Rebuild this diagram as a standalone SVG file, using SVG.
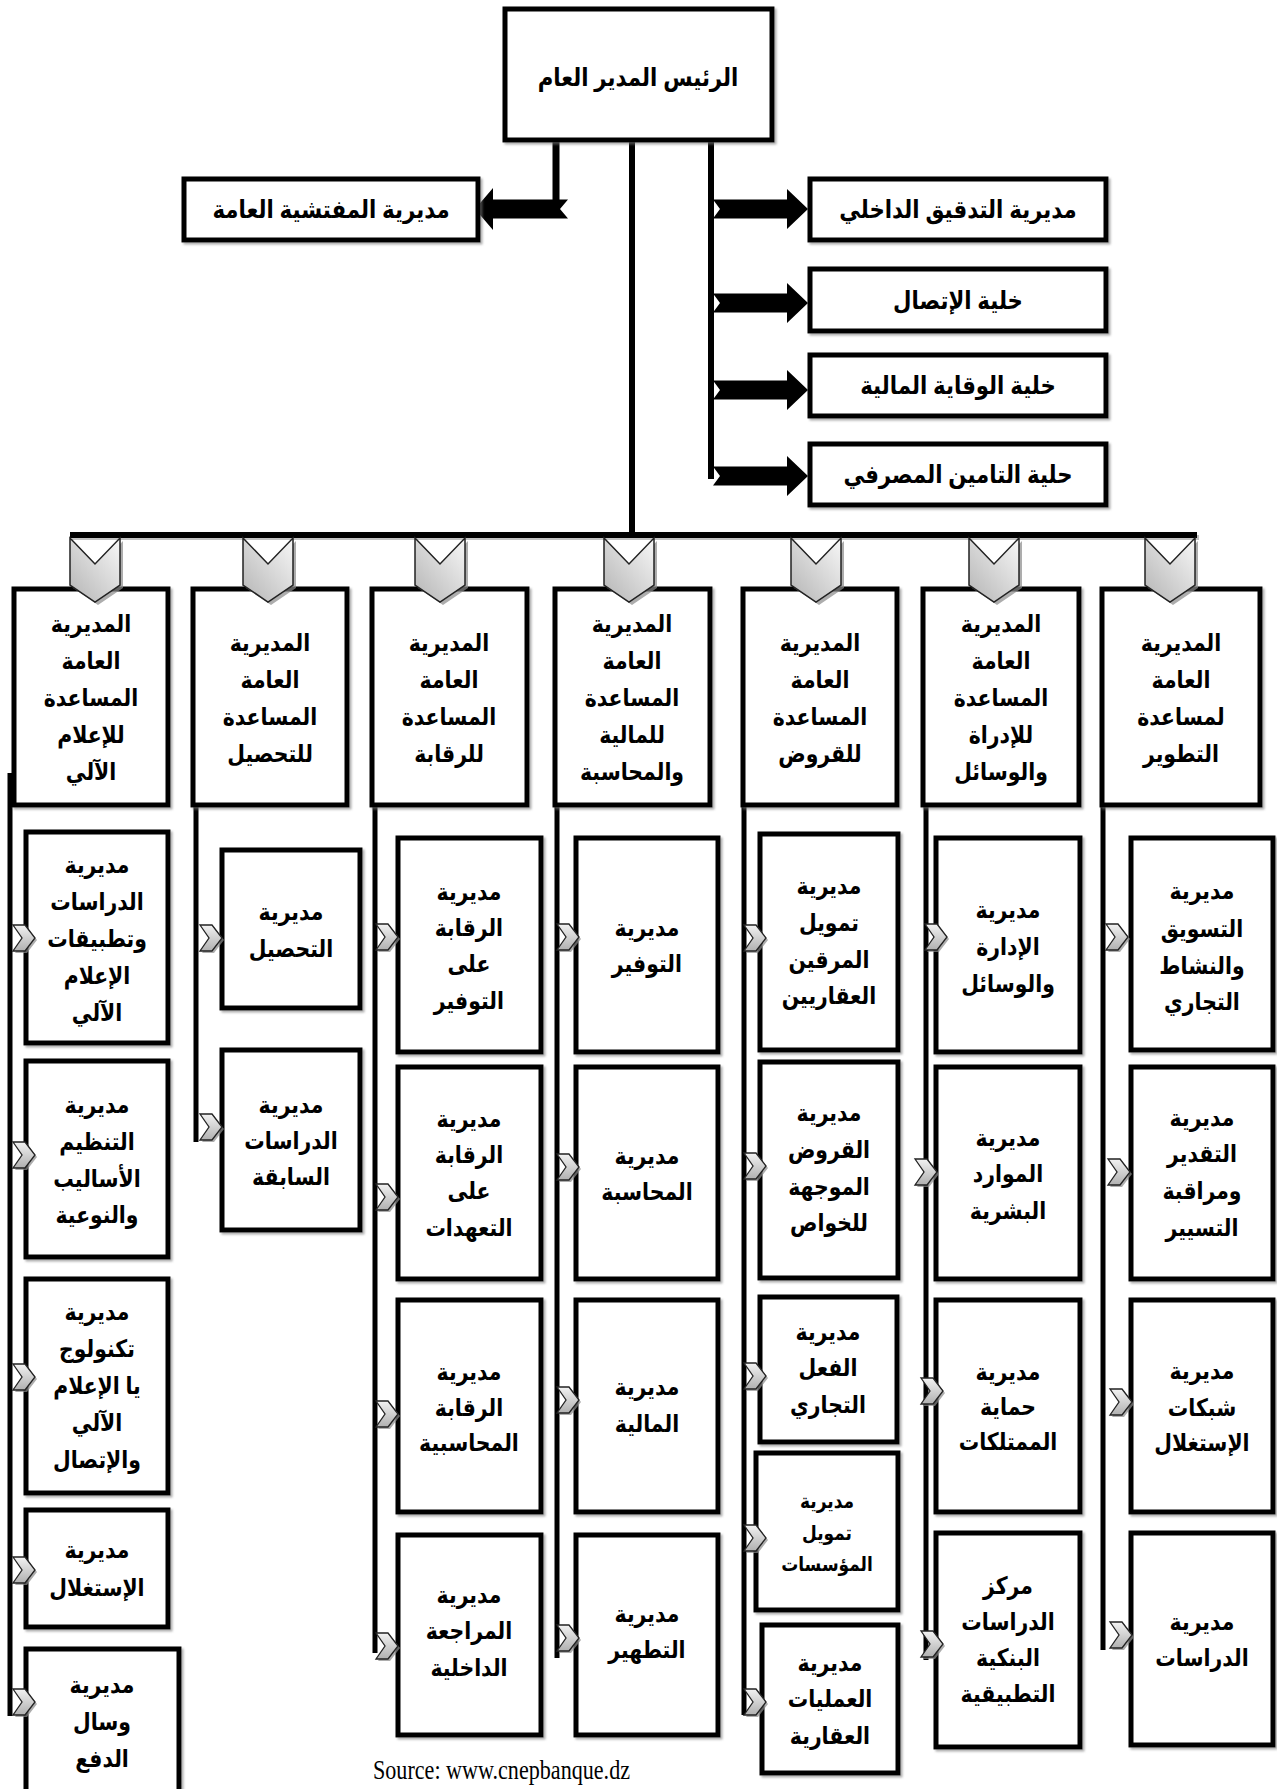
<svg xmlns="http://www.w3.org/2000/svg" width="1277" height="1789" viewBox="0 0 1277 1789">
  <style>
    .box { fill: #fff; stroke: #000; stroke-width: 5; filter: url(#shadow); }
    .t { font-family: "Liberation Sans", "DejaVu Sans", "Noto Sans", sans-serif; font-weight: bold; font-size: 24px; text-anchor: middle; dominant-baseline: central; fill: #000; transform-box: fill-box; transform-origin: center; transform: scaleX(0.85); }
    .tl { font-size: 25px; }
    .ts { font-size: 20px; }
    .ln { stroke: #000; stroke-width: 5; fill: none; }
    .arrow { fill: #000; }
    .src { font-family: "Liberation Serif", serif; font-size: 28px; fill: #000; }
  </style>
  <defs>
    <filter id="shadow" x="-10%" y="-10%" width="130%" height="130%">
      <feDropShadow dx="2" dy="2" stdDeviation="0.8" flood-color="#777" flood-opacity="0.6"/>
    </filter>
    <linearGradient id="gDown" x1="0" y1="1" x2="1" y2="0">
      <stop offset="0" stop-color="#b4b4b4"/>
      <stop offset="0.55" stop-color="#d9d9d9"/>
      <stop offset="1" stop-color="#f7f7f7"/>
    </linearGradient>
    <linearGradient id="gRight" x1="0" y1="1" x2="0" y2="0">
      <stop offset="0" stop-color="#b0b0b0"/>
      <stop offset="1" stop-color="#f2f2f2"/>
    </linearGradient>
    <!-- downward chevron under the horizontal bus, centred on x=0, top at y=0 -->
    <g id="chevDown">
      <polygon points="-22,3 3,29 28,3 28,50 3,67 -22,50" fill="#8a8a8a" opacity="0.7"/>
      <polygon points="-25,0 0,26 25,0 25,47 0,64 -25,47" fill="url(#gDown)" stroke="#222" stroke-width="1.5" stroke-linejoin="miter"/>
    </g>
    <!-- small right-pointing chevron, left edge at x=0, centred on y=0 -->
    <g id="chevRight">
      <polygon points="2,-11 14,-11 24,2 14,15 2,15 11,2" fill="#8a8a8a" opacity="0.7"/>
      <polygon points="0,-13 12,-13 22,0 12,13 0,13 9,0" fill="url(#gRight)" stroke="#222" stroke-width="1.3"/>
    </g>
  </defs>

  <rect width="1277" height="1789" fill="#fff"/>

  <!-- connectors -->
  <g id="connectors">
    <!-- from the general manager -->
    <line class="ln" x1="556" y1="140" x2="556" y2="205" style="stroke-width:7"/>
    <line class="ln" x1="632" y1="140" x2="632" y2="534" style="stroke-width:6"/>
    <line class="ln" x1="711" y1="140" x2="711" y2="479" style="stroke-width:6"/>
    <!-- block arrows -->
    <polygon class="arrow" points="568,199.5 493,199.5 493,188 475,209 493,230 493,218.5 568,218.5 560,209"/>
    <polygon class="arrow" points="713,199.5 787,199.5 787,189 808,209 787,229 787,218.5 713,218.5 720,209"/>
    <polygon class="arrow" points="713,293.5 787,293.5 787,283 808,303 787,323 787,312.5 713,312.5 720,303"/>
    <polygon class="arrow" points="713,380.5 787,380.5 787,370 808,390 787,410 787,399.5 713,399.5 720,390"/>
    <polygon class="arrow" points="713,466.5 787,466.5 787,456 808,476 787,496 787,485.5 713,485.5 720,476"/>

    <!-- horizontal bus -->
    <rect x="72" y="535" width="1127" height="5" fill="#9a9a9a" opacity="0.6"/>
    <rect x="70" y="532" width="1127" height="6" fill="#000"/>

    <!-- column spines -->
    <line class="ln" x1="10" y1="773" x2="10" y2="1716"/>
    <line class="ln" x1="196" y1="805" x2="196" y2="1142"/>
    <line class="ln" x1="375" y1="805" x2="375" y2="1653"/>
    <line class="ln" x1="557" y1="805" x2="557" y2="1658"/>
    <line class="ln" x1="744" y1="805" x2="744" y2="1715"/>
    <line class="ln" x1="926" y1="805" x2="926" y2="1660"/>
    <line class="ln" x1="1103" y1="805" x2="1103" y2="1650"/>
  </g>

  <!-- general manager -->
  <g id="n-ceo">
    <rect class="box" x="505" y="9" width="267" height="131"/>
    <text class="t tl" x="638" y="77">الرئيس المدير العام</text>
  </g>
  <g id="n-inspection">
    <rect class="box" x="184" y="179" width="294" height="61"/>
    <text class="t tl" x="331" y="209">مديرية المفتشية العامة</text>
  </g>
  <g id="n-audit">
    <rect class="box" x="810" y="179" width="296" height="61"/>
    <text class="t tl" x="958" y="209">مديرية التدقيق الداخلي</text>
  </g>
  <g id="n-comm">
    <rect class="box" x="810" y="269" width="296" height="62"/>
    <text class="t tl" x="958" y="300">خلية الإتصال</text>
  </g>
  <g id="n-prevention">
    <rect class="box" x="810" y="355" width="296" height="61"/>
    <text class="t tl" x="958" y="385">خلية الوقاية المالية</text>
  </g>
  <g id="n-insurance">
    <rect class="box" x="810" y="444" width="296" height="61"/>
    <text class="t tl" x="958" y="474">حلية التامين المصرفي</text>
  </g>

  <!-- deputy general directorates -->
  <g id="n-d1">
    <rect class="box" x="14" y="589" width="154" height="216"/>
    <text class="t" x="91"><tspan x="91" y="623">المديرية</tspan><tspan x="91" y="660">العامة</tspan><tspan x="91" y="697">المساعدة</tspan><tspan x="91" y="734">للإعلام</tspan><tspan x="91" y="771">الآلي</tspan></text>
  </g>
  <g id="n-d2">
    <rect class="box" x="193" y="589" width="154" height="216"/>
    <text class="t" x="270"><tspan x="270" y="642">المديرية</tspan><tspan x="270" y="679">العامة</tspan><tspan x="270" y="716">المساعدة</tspan><tspan x="270" y="753">للتحصيل</tspan></text>
  </g>
  <g id="n-d3">
    <rect class="box" x="372" y="589" width="155" height="216"/>
    <text class="t" x="449"><tspan x="449" y="642">المديرية</tspan><tspan x="449" y="679">العامة</tspan><tspan x="449" y="716">المساعدة</tspan><tspan x="449" y="753">للرقابة</tspan></text>
  </g>
  <g id="n-d4">
    <rect class="box" x="555" y="589" width="155" height="216"/>
    <text class="t" x="632"><tspan x="632" y="623">المديرية</tspan><tspan x="632" y="660">العامة</tspan><tspan x="632" y="697">المساعدة</tspan><tspan x="632" y="734">للمالية</tspan><tspan x="632" y="771">والمحاسبة</tspan></text>
  </g>
  <g id="n-d5">
    <rect class="box" x="743" y="589" width="154" height="216"/>
    <text class="t" x="820"><tspan x="820" y="642">المديرية</tspan><tspan x="820" y="679">العامة</tspan><tspan x="820" y="716">المساعدة</tspan><tspan x="820" y="753">للقروض</tspan></text>
  </g>
  <g id="n-d6">
    <rect class="box" x="923" y="589" width="156" height="216"/>
    <text class="t" x="1001"><tspan x="1001" y="623">المديرية</tspan><tspan x="1001" y="660">العامة</tspan><tspan x="1001" y="697">المساعدة</tspan><tspan x="1001" y="734">للإدراة</tspan><tspan x="1001" y="771">والوسائل</tspan></text>
  </g>
  <g id="n-d7">
    <rect class="box" x="1102" y="589" width="158" height="216"/>
    <text class="t" x="1181"><tspan x="1181" y="642">المديرية</tspan><tspan x="1181" y="679">العامة</tspan><tspan x="1181" y="716">لمساعدة</tspan><tspan x="1181" y="753">التطوير</tspan></text>
  </g>

  <!-- chevrons on the bus -->
  <g id="bus-chevrons">
    <use href="#chevDown" x="95" y="538"/>
    <use href="#chevDown" x="268" y="538"/>
    <use href="#chevDown" x="440" y="538"/>
    <use href="#chevDown" x="629" y="538"/>
    <use href="#chevDown" x="816" y="538"/>
    <use href="#chevDown" x="994" y="538"/>
    <use href="#chevDown" x="1170" y="538"/>
  </g>

  <!-- column 1 -->
  <g id="n-c1-1">
    <rect class="box" x="26" y="832" width="142" height="211"/>
    <text class="t" x="97"><tspan x="97" y="864">مديرية</tspan><tspan x="97" y="901">الدراسات</tspan><tspan x="97" y="938">وتطبيقات</tspan><tspan x="97" y="975">الإعلام</tspan><tspan x="97" y="1012">الآلي</tspan></text>
  </g>
  <g id="n-c1-2">
    <rect class="box" x="26" y="1061" width="142" height="196"/>
    <text class="t" x="97"><tspan x="97" y="1104">مديرية</tspan><tspan x="97" y="1141">التنظيم</tspan><tspan x="97" y="1178">الأساليب</tspan><tspan x="97" y="1214">والنوعية</tspan></text>
  </g>
  <g id="n-c1-3">
    <rect class="box" x="26" y="1279" width="142" height="214"/>
    <text class="t" x="97"><tspan x="97" y="1311">مديرية</tspan><tspan x="97" y="1348">تكنولوج</tspan><tspan x="97" y="1385">يا الإعلام</tspan><tspan x="97" y="1422">الآلي</tspan><tspan x="97" y="1459">والإتصال</tspan></text>
  </g>
  <g id="n-c1-4">
    <rect class="box" x="26" y="1510" width="142" height="117"/>
    <text class="t" x="97"><tspan x="97" y="1549">مديرية</tspan><tspan x="97" y="1587">الإستغلال</tspan></text>
  </g>
  <g id="n-c1-5">
    <rect class="box" x="26" y="1649" width="153" height="160"/>
    <text class="t" x="102"><tspan x="102" y="1684">مديرية</tspan><tspan x="102" y="1721">وسال</tspan><tspan x="102" y="1758">الدفع</tspan></text>
  </g>

  <!-- column 2 -->
  <g id="n-c2-1">
    <rect class="box" x="222" y="850" width="138" height="158"/>
    <text class="t" x="291"><tspan x="291" y="911">مديرية</tspan><tspan x="291" y="948">التحصيل</tspan></text>
  </g>
  <g id="n-c2-2">
    <rect class="box" x="222" y="1050" width="138" height="180"/>
    <text class="t" x="291"><tspan x="291" y="1104">مديرية</tspan><tspan x="291" y="1140">الدراسات</tspan><tspan x="291" y="1176">السابقة</tspan></text>
  </g>

  <!-- column 3 -->
  <g id="n-c3-1">
    <rect class="box" x="398" y="838" width="143" height="214"/>
    <text class="t" x="469"><tspan x="469" y="891">مديرية</tspan><tspan x="469" y="927">الرقابة</tspan><tspan x="469" y="963">على</tspan><tspan x="469" y="1000">التوفير</tspan></text>
  </g>
  <g id="n-c3-2">
    <rect class="box" x="398" y="1067" width="143" height="212"/>
    <text class="t" x="469"><tspan x="469" y="1118">مديرية</tspan><tspan x="469" y="1154">الرقابة</tspan><tspan x="469" y="1190">على</tspan><tspan x="469" y="1227">التعهدات</tspan></text>
  </g>
  <g id="n-c3-3">
    <rect class="box" x="398" y="1300" width="143" height="212"/>
    <text class="t" x="469"><tspan x="469" y="1371">مديرية</tspan><tspan x="469" y="1407">الرقابة</tspan><tspan x="469" y="1442">المحاسبية</tspan></text>
  </g>
  <g id="n-c3-4">
    <rect class="box" x="398" y="1535" width="143" height="200"/>
    <text class="t" x="469"><tspan x="469" y="1594">مديرية</tspan><tspan x="469" y="1630">المراجعة</tspan><tspan x="469" y="1667">الداخلية</tspan></text>
  </g>

  <!-- column 4 -->
  <g id="n-c4-1">
    <rect class="box" x="576" y="838" width="142" height="214"/>
    <text class="t" x="647"><tspan x="647" y="927">مديرية</tspan><tspan x="647" y="963">التوفير</tspan></text>
  </g>
  <g id="n-c4-2">
    <rect class="box" x="576" y="1067" width="142" height="212"/>
    <text class="t" x="647"><tspan x="647" y="1155">مديرية</tspan><tspan x="647" y="1191">المحاسبة</tspan></text>
  </g>
  <g id="n-c4-3">
    <rect class="box" x="576" y="1300" width="142" height="212"/>
    <text class="t" x="647"><tspan x="647" y="1386">مديرية</tspan><tspan x="647" y="1423">المالية</tspan></text>
  </g>
  <g id="n-c4-4">
    <rect class="box" x="576" y="1535" width="142" height="200"/>
    <text class="t" x="647"><tspan x="647" y="1613">مديرية</tspan><tspan x="647" y="1649">التطهير</tspan></text>
  </g>

  <!-- column 5 -->
  <g id="n-c5-1">
    <rect class="box" x="760" y="834" width="138" height="216"/>
    <text class="t" x="829"><tspan x="829" y="885">مديرية</tspan><tspan x="829" y="922">تمويل</tspan><tspan x="829" y="959">المرقين</tspan><tspan x="829" y="995">العقاريين</tspan></text>
  </g>
  <g id="n-c5-2">
    <rect class="box" x="760" y="1062" width="138" height="216"/>
    <text class="t" x="829"><tspan x="829" y="1112">مديرية</tspan><tspan x="829" y="1149">القروض</tspan><tspan x="829" y="1186">الموجهة</tspan><tspan x="829" y="1222">للخواص</tspan></text>
  </g>
  <g id="n-c5-3">
    <rect class="box" x="760" y="1297" width="137" height="145"/>
    <text class="t" x="828"><tspan x="828" y="1331">مديرية</tspan><tspan x="828" y="1367">الفعل</tspan><tspan x="828" y="1404">التجاري</tspan></text>
  </g>
  <g id="n-c5-4">
    <rect class="box" x="756" y="1453" width="142" height="157"/>
    <text class="t ts" x="827"><tspan x="827" y="1500">مديرية</tspan><tspan x="827" y="1532">تمويل</tspan><tspan x="827" y="1563">المؤسسات</tspan></text>
  </g>
  <g id="n-c5-5">
    <rect class="box" x="762" y="1625" width="136" height="148"/>
    <text class="t" x="830"><tspan x="830" y="1662">مديرية</tspan><tspan x="830" y="1698">العمليات</tspan><tspan x="830" y="1735">العقارية</tspan></text>
  </g>

  <!-- column 6 -->
  <g id="n-c6-1">
    <rect class="box" x="936" y="838" width="144" height="214"/>
    <text class="t" x="1008"><tspan x="1008" y="909">مديرية</tspan><tspan x="1008" y="946">الإدارة</tspan><tspan x="1008" y="983">والوسائل</tspan></text>
  </g>
  <g id="n-c6-2">
    <rect class="box" x="936" y="1067" width="144" height="212"/>
    <text class="t" x="1008"><tspan x="1008" y="1137">مديرية</tspan><tspan x="1008" y="1173">الموارد</tspan><tspan x="1008" y="1210">البشرية</tspan></text>
  </g>
  <g id="n-c6-3">
    <rect class="box" x="936" y="1300" width="144" height="212"/>
    <text class="t" x="1008"><tspan x="1008" y="1371">مديرية</tspan><tspan x="1008" y="1406">حماية</tspan><tspan x="1008" y="1441">الممتلكات</tspan></text>
  </g>
  <g id="n-c6-4">
    <rect class="box" x="936" y="1533" width="144" height="214"/>
    <text class="t" x="1008"><tspan x="1008" y="1585">مركز</tspan><tspan x="1008" y="1621">الدراسات</tspan><tspan x="1008" y="1657">البنكية</tspan><tspan x="1008" y="1693">التطبيقية</tspan></text>
  </g>

  <!-- column 7 -->
  <g id="n-c7-1">
    <rect class="box" x="1131" y="838" width="142" height="212"/>
    <text class="t" x="1202"><tspan x="1202" y="890">مديرية</tspan><tspan x="1202" y="928">التسويق</tspan><tspan x="1202" y="965">والنشاط</tspan><tspan x="1202" y="1001">التجاري</tspan></text>
  </g>
  <g id="n-c7-2">
    <rect class="box" x="1131" y="1067" width="142" height="212"/>
    <text class="t" x="1202"><tspan x="1202" y="1117">مديرية</tspan><tspan x="1202" y="1153">التقدير</tspan><tspan x="1202" y="1190">ومراقبة</tspan><tspan x="1202" y="1227">التسيير</tspan></text>
  </g>
  <g id="n-c7-3">
    <rect class="box" x="1131" y="1300" width="142" height="212"/>
    <text class="t" x="1202"><tspan x="1202" y="1370">مديرية</tspan><tspan x="1202" y="1407">شبكات</tspan><tspan x="1202" y="1442">الإستغلال</tspan></text>
  </g>
  <g id="n-c7-4">
    <rect class="box" x="1131" y="1533" width="142" height="212"/>
    <text class="t" x="1202"><tspan x="1202" y="1621">مديرية</tspan><tspan x="1202" y="1657">الدراسات</tspan></text>
  </g>

  <!-- side chevrons into the sub-directorates -->
  <g id="side-chevrons">
    <use href="#chevRight" x="13" y="938"/>
    <use href="#chevRight" x="13" y="1155"/>
    <use href="#chevRight" x="13" y="1377"/>
    <use href="#chevRight" x="13" y="1570"/>
    <use href="#chevRight" x="13" y="1702"/>

    <use href="#chevRight" x="200" y="938"/>
    <use href="#chevRight" x="200" y="1127"/>

    <use href="#chevRight" x="376" y="937"/>
    <use href="#chevRight" x="376" y="1197"/>
    <use href="#chevRight" x="376" y="1414"/>
    <use href="#chevRight" x="376" y="1646"/>

    <use href="#chevRight" x="557" y="937"/>
    <use href="#chevRight" x="557" y="1167"/>
    <use href="#chevRight" x="557" y="1400"/>
    <use href="#chevRight" x="557" y="1638"/>

    <use href="#chevRight" x="744" y="938"/>
    <use href="#chevRight" x="744" y="1166"/>
    <use href="#chevRight" x="744" y="1376"/>
    <use href="#chevRight" x="744" y="1538"/>
    <use href="#chevRight" x="744" y="1702"/>

    <use href="#chevRight" x="925" y="937"/>
    <use href="#chevRight" x="915" y="1172"/>
    <use href="#chevRight" x="921" y="1391"/>
    <use href="#chevRight" x="921" y="1644"/>

    <use href="#chevRight" x="1106" y="937"/>
    <use href="#chevRight" x="1108" y="1172"/>
    <use href="#chevRight" x="1110" y="1402"/>
    <use href="#chevRight" x="1110" y="1635"/>
  </g>

  <text class="src" x="373" y="1779" textLength="257" lengthAdjust="spacingAndGlyphs">Source: www.cnepbanque.dz</text>
</svg>
